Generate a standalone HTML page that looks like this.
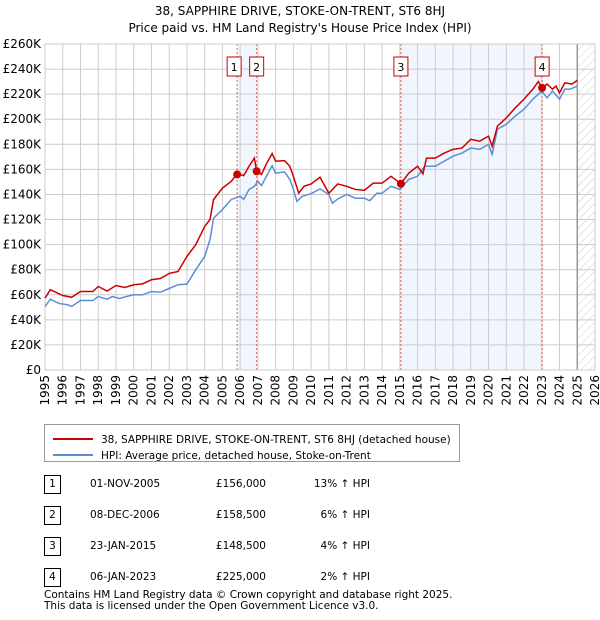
<!DOCTYPE html>
<html><head><meta charset="utf-8"><style>
body{margin:0;background:#fff;font-family:"DejaVu Sans","Liberation Sans",sans-serif;}
#wrap{position:relative;width:600px;height:620px;overflow:hidden;}
.t{position:absolute;font-size:11px;color:#000;white-space:nowrap;}
</style></head><body>
<div id="wrap">
<div class="t" style="left:0;width:600px;text-align:center;top:4px;font-size:12px;">38, SAPPHIRE DRIVE, STOKE-ON-TRENT, ST6 8HJ</div>
<div class="t" style="left:0;width:600px;text-align:center;top:21px;font-size:12px;">Price paid vs. HM Land Registry's House Price Index (HPI)</div>
<svg id="chart" width="600" height="420" style="position:absolute;left:0;top:0"></svg>
<div style="position:absolute;left:44px;top:424px;width:416px;height:38px;border:1px solid #999;box-sizing:border-box;">
 <div style="position:absolute;left:8px;top:3px;white-space:nowrap;"><span style="display:inline-block;width:40px;height:2px;background:#cc0000;vertical-align:middle;"></span><span style="font-size:10.5px;margin-left:8px;">38, SAPPHIRE DRIVE, STOKE-ON-TRENT, ST6 8HJ (detached house)</span></div>
 <div style="position:absolute;left:8px;top:19px;white-space:nowrap;"><span style="display:inline-block;width:40px;height:2px;background:#5b8fd4;vertical-align:middle;"></span><span style="font-size:10.5px;margin-left:8px;">HPI: Average price, detached house, Stoke-on-Trent</span></div>
</div>
<div id="table"></div>
<div class="t" style="left:44px;top:589px;font-size:10.5px;">Contains HM Land Registry data © Crown copyright and database right 2025.</div>
<div class="t" style="left:44px;top:600px;font-size:10.5px;">This data is licensed under the Open Government Licence v3.0.</div>
</div>
<script>
const hpiYears=[1995,1995.3,1995.8,1996.3,1996.5,1997,1997.7,1998,1998.5,1998.8,1999.2,1999.7,2000,2000.5,2001,2001.5,2002,2002.5,2003,2003.5,2004,2004.3,2004.5,2005,2005.5,2006,2006.2,2006.5,2006.8,2007,2007.2,2007.5,2007.8,2008,2008.5,2008.8,2009,2009.2,2009.5,2010,2010.5,2011,2011.2,2011.5,2012,2012.5,2013,2013.3,2013.7,2014,2014.5,2015,2015.5,2016,2016.4,2017,2017.5,2018,2018.5,2019,2019.5,2020,2020.2,2020.5,2021,2021.5,2022,2022.5,2023,2023.3,2023.6,2024,2024.3,2024.6,2025];
const hpiValues=[50.6,56.5,53,52,50.6,55.4,55.4,58.6,56.5,58.6,57,59,60,60,62.6,62,65,68,68.5,80,90.6,104,121,128,136,138.5,136,144,146.5,150.5,147,155,163,157,158,152,144,134.5,138.5,140.6,144.4,140,133,136.4,140,137,137,135,141,141,146.5,144,152,154.5,162.5,162.5,166.5,170.5,173,177,176,180,172,192,196,202.5,208,216,222.5,217,222.5,216,224,224,226.5];
const priceYears=[1995,1995.3,1996,1996.5,1997,1997.7,1998,1998.5,1999,1999.5,2000,2000.5,2001,2001.5,2002,2002.5,2003,2003.5,2004,2004.3,2004.5,2005,2005.5,2005.83,2006.2,2006.5,2006.8,2006.93,2007.2,2007.5,2007.8,2008,2008.5,2008.8,2009,2009.3,2009.6,2010,2010.5,2011,2011.5,2012,2012.5,2013,2013.5,2014,2014.5,2015.06,2015.5,2016,2016.3,2016.5,2017,2017.5,2018,2018.5,2019,2019.5,2020,2020.2,2020.5,2021,2021.5,2022,2022.5,2022.8,2023.02,2023.3,2023.6,2023.8,2024,2024.3,2024.7,2025];
const priceValues=[57.3,64,59.4,58,62.6,62.6,66.6,63,67.4,65.8,68,68.7,72,73,77,78.6,90.6,100,114.5,120,136,145,150.5,156.6,155,162.5,169,158.5,156,165,172.6,166.5,167,162.5,154.5,141,146.5,148.4,153.7,141,148.4,146.5,144,143.3,149,149,154.5,148.6,157,162.5,156.4,169,169,173,176,177,184,182.5,186.5,178.5,194.5,201,209,216,224,230,225,228,224,226.5,221,229,228,231];
const saleLabels=["1","2","3","4"];
const saleYears=[2005.83,2006.93,2015.06,2023.02];
const salePrices=[156,158.5,148.5,225];
const saleDates=["01-NOV-2005","08-DEC-2006","23-JAN-2015","06-JAN-2023"];
const salePriceText=["£156,000","£158,500","£148,500","£225,000"];
const saleHpiText=["13% ↑ HPI","6% ↑ HPI","4% ↑ HPI","2% ↑ HPI"];
const yTicks=[0,20,40,60,80,100,120,140,160,180,200,220,240,260];
const xTicks=[1995,1996,1997,1998,1999,2000,2001,2002,2003,2004,2005,2006,2007,2008,2009,2010,2011,2012,2013,2014,2015,2016,2017,2018,2019,2020,2021,2022,2023,2024,2025,2026];

const L=45,R=595,T=44,B=370;
const X=y=>L+(y-1995)/(2026-1995)*(R-L);
const Y=v=>B-v/260*(B-T);
const NS="http://www.w3.org/2000/svg";
const FF="DejaVu Sans, Liberation Sans, sans-serif";
const svg=document.getElementById('chart');
function mk(tag,attrs,parent){const e=document.createElementNS(NS,tag);for(const k in attrs)e.setAttribute(k,attrs[k]);(parent||svg).appendChild(e);return e;}
const defs=mk('defs',{});
const pat=mk('pattern',{id:'hatch',width:6,height:6,patternUnits:'userSpaceOnUse',patternTransform:'rotate(45)'},defs);
mk('line',{x1:0,y1:0,x2:0,y2:6,stroke:'#ccc','stroke-width':1},pat);
for(let i=0;i<saleYears.length;i+=2){
 const r=mk('rect',{x:X(saleYears[i]),y:T,width:X(saleYears[i+1])-X(saleYears[i]),height:B-T,fill:'#eef3fc',opacity:0.8});
 
 
}
const hr=mk('rect',{x:X(2025),y:T,width:R-X(2025),height:B-T,fill:'url(#hatch)'});


yTicks.forEach(v=>{
 const g=mk('line',{x1:L,x2:R,y1:Y(v),y2:Y(v),stroke:'#cccccc','stroke-width':1});
 
 
 const t=mk('text',{x:L-4,y:Y(v)+4,'text-anchor':'end','font-size':12,fill:'#000','font-family':FF});
 t.textContent=v===0?'£0':'£'+v+'K';
 
 
});
xTicks.forEach(y=>{
 const g=mk('line',{x1:X(y),x2:X(y),y1:T,y2:B,stroke:'#cccccc','stroke-width':1});
 
 
 const t=mk('text',{x:0,y:0,'text-anchor':'end','font-size':12,fill:'#000','font-family':FF,transform:`translate(${X(y)+4},${B+5}) rotate(-90)`});
 t.textContent=y;
 
 
});
const vl=mk('line',{x1:X(2025),x2:X(2025),y1:T,y2:B,stroke:'#999','stroke-width':1.5});


saleYears.forEach((y,i)=>{
 const l=mk('line',{x1:X(y),x2:X(y),y1:T,y2:B,stroke:'#e06060','stroke-width':1,'stroke-dasharray':'2,2'});
 
 
 const b=mk('rect',{x:(i===0?X(y)-10:X(y)-7),y:57,width:14,height:19,fill:'#fff',stroke:'#cc0000','stroke-width':1});
 
 
 const t=mk('text',{x:(i===0?X(y)-3:X(y)),y:71,'text-anchor':'middle','font-size':11,fill:'#000','font-family':FF});
 t.textContent=saleLabels[i];
 
 
});
const bd=mk('rect',{x:L,y:T,width:R-L,height:B-T,fill:'none',stroke:'#cccccc','stroke-width':1});


const hp=mk('polyline',{points:hpiYears.map((y,i)=>X(y)+','+Y(hpiValues[i])).join(' '),fill:'none',stroke:'#5b8fd4','stroke-width':1.5});


const pp=mk('polyline',{points:priceYears.map((y,i)=>X(y)+','+Y(priceValues[i])).join(' '),fill:'none',stroke:'#cc0000','stroke-width':1.5});


saleYears.forEach((y,i)=>{
 const c=mk('circle',{cx:X(y),cy:Y(salePrices[i]),r:4,fill:'#cc0000'});
 
 
});
const tb=document.getElementById('table');
saleLabels.forEach((lab,i)=>{
 const top=475+i*31;
 const row=document.createElement('div');
 
 
 row.style.cssText=`position:absolute;left:0;top:${top}px;width:600px;height:20px;font-size:10.5px;white-space:nowrap;`;
 row.innerHTML=`<div style="position:absolute;left:44px;top:0;width:17px;height:19px;border:1px solid #000;box-sizing:border-box;text-align:center;line-height:17px;">${lab}</div>`+
 `<div style="position:absolute;left:90px;top:3px;">${saleDates[i]}</div>`+
 `<div style="position:absolute;left:196px;width:70px;text-align:right;top:3px;">${salePriceText[i]}</div>`+
 `<div style="position:absolute;left:280px;width:90px;text-align:right;top:3px;">${saleHpiText[i]}</div>`;
 tb.appendChild(row);
});
</script>
</body></html>
